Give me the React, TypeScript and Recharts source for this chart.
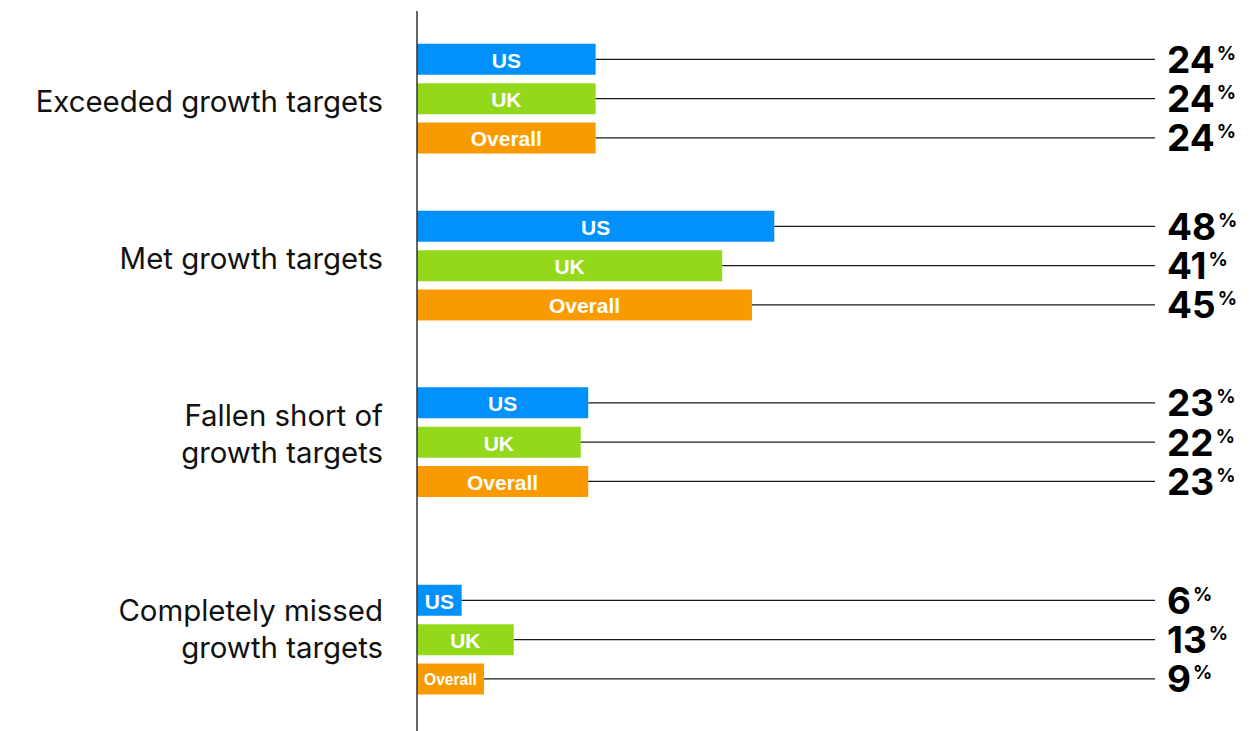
import { Bar, BarChart, Cell, LabelList, ReferenceLine, XAxis, YAxis } from "recharts";

const CATEGORIES: string[][] = [
  ["Exceeded growth targets"],
  ["Met growth targets"],
  ["Fallen short of", "growth targets"],
  ["Completely missed", "growth targets"],
];
const SERIES = ["US", "UK", "Overall"];
const US_VALUES = [24, 48, 23, 6];
const UK_VALUES = [24, 41, 22, 13];
const OVERALL_VALUES = [24, 45, 23, 9];

const COLORS = ["#0091ff", "#94d81b", "#f99b00"];

// page layout of each group block (px)
const GROUPS = [
  { top: 11, bottom: 182, bandTop: 39.85, baselines: [111.7] },
  { top: 182, bottom: 354, bandTop: 206.85, baselines: [269] },
  { top: 354, bottom: 541, bandTop: 383.35, baselines: [425.6, 463.2] },
  { top: 541, bottom: 731, bandTop: 580.85, baselines: [620.7, 657.9] },
];

const WIDTH = 1259;
const AXIS_X = 417;
const PLOT_W = 744.4; // 100% of the value axis
const ROW = 39.3;
const BAR_SIZE = 31;
const LINE_END = 1155;
const VALUE_X = 1167;
const LABEL_X = 383;

const canvas = document.createElement("canvas");
const ctx = canvas.getContext("2d");

function fitFont(text: string, barWidth: number): number {
  const size = 21;
  if (!ctx) return size;
  ctx.font = `bold ${size}px "Liberation Sans", Arial, sans-serif`;
  const w = ctx.measureText(text).width;
  if (w + 14 > barWidth) return (size * (barWidth - 14)) / w;
  return size;
}

function box(props: any) {
  const vb = props.viewBox ?? {};
  const x = Number(props.x ?? vb.x);
  const y = Number(props.y ?? vb.y);
  const width = Number(props.width ?? vb.width);
  const height = Number(props.height ?? vb.height);
  return { x, y, width, height };
}

function InsideLabel(props: any) {
  const { x, y, width, height } = box(props);
  const text = String(props.value);
  const size = fitFont(text, width);
  return (
    <text
      x={x + width / 2}
      y={y + height / 2 + 1}
      textAnchor="middle"
      dominantBaseline="central"
      fill="#fff"
      fontFamily='"Liberation Sans", Arial, sans-serif'
      fontWeight={700}
      fontSize={size}
    >
      {text}
    </text>
  );
}

function ValueLabel(props: any) {
  const { x, y, width, height } = box(props);
  const cy = y + height / 2;
  return (
    <g>
      <line x1={x + width} x2={LINE_END} y1={cy} y2={cy} stroke="#1a1a1a" strokeWidth={1.3} />
      <text
        x={VALUE_X}
        y={cy + 13.5}
        fill="#000"
        fontFamily="Inter, sans-serif"
        fontWeight={700}
        fontSize={37}
      >
        {props.value}
        <tspan fontSize={19} dx={2} dy={-13}>
          %
        </tspan>
      </text>
    </g>
  );
}

function GroupChart({ index }: { index: number }) {
  const g = GROUPS[index];
  const height = g.bottom - g.top;
  const padTop = g.bandTop - g.top;
  const padBottom = g.bottom - (g.bandTop + ROW * 3);
  const values = [US_VALUES[index], UK_VALUES[index], OVERALL_VALUES[index]];
  const data = SERIES.map((s, i) => ({ series: s, value: values[i] }));
  const lines = CATEGORIES[index];

  const renderCategory = () => (
    <text textAnchor="end" fill="#111" fontFamily="Inter, sans-serif" fontSize={29.4}>
      {lines.map((line, i) => (
        <tspan key={i} x={LABEL_X} y={g.baselines[i] - g.top}>
          {line}
        </tspan>
      ))}
    </text>
  );

  return (
    <div style={{ position: "absolute", left: 0, top: g.top }}>
      <BarChart
        width={WIDTH}
        height={height}
        data={data}
        layout="vertical"
        margin={{ top: 0, right: WIDTH - AXIS_X - PLOT_W, bottom: 0, left: AXIS_X }}
      >
        <XAxis type="number" domain={[0, 100]} hide />
        <YAxis
          type="category"
          dataKey="series"
          width={0}
          hide
          padding={{ top: padTop, bottom: padBottom }}
        />
        <Bar dataKey="value" barSize={BAR_SIZE} isAnimationActive={false}>
          {data.map((d, i) => (
            <Cell key={d.series} fill={COLORS[i]} />
          ))}
          <LabelList dataKey="series" content={InsideLabel} />
          <LabelList dataKey="value" content={ValueLabel} />
        </Bar>
        <ReferenceLine x={0} stroke="#333" strokeWidth={1.5} label={renderCategory} />
      </BarChart>
    </div>
  );
}

export default function App() {
  return (
    <div
      style={{
        position: "absolute",
        left: 0,
        top: 0,
        width: WIDTH,
        height: 731,
        background: "#fff",
      }}
    >
      {GROUPS.map((_, i) => (
        <GroupChart key={i} index={i} />
      ))}
    </div>
  );
}
